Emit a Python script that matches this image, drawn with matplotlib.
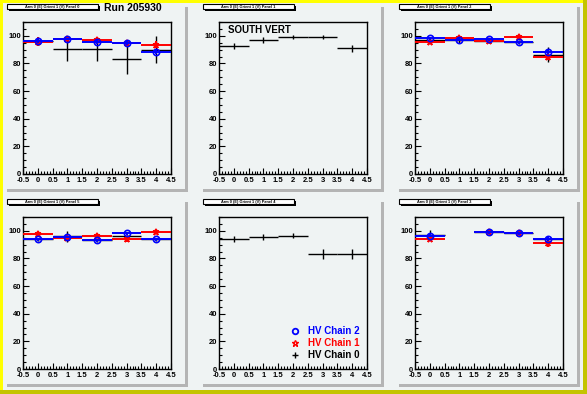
import numpy as np
import matplotlib
matplotlib.use("Agg")
import matplotlib.pyplot as plt
from matplotlib.patches import Rectangle
from matplotlib.lines import Line2D
from matplotlib.ticker import MultipleLocator, FixedLocator

plt.rcParams['font.family'] = ['Liberation Sans', 'DejaVu Sans']
plt.rcParams['font.weight'] = 'bold'

W, H = 587, 394
BG = '#eff3f3'

# bin centres and tick labels
bins = [0, 1, 2, 3, 4]
xticks = [-0.5, 0, 0.5, 1, 1.5, 2, 2.5, 3, 3.5, 4, 4.5]
xticklabels = ['-0.5', '0', '0.5', '1', '1.5', '2', '2.5', '3', '3.5', '4', '4.5']
yticks = [0, 20, 40, 60, 80, 100]

nan = np.nan

# panel 0
p0_ch0 = [96.0, 90.5, 90.5, 83.5, 90.0]
p0_ch0_err = [3.0, 8.5, 8.5, 11.0, 10.0]
p0_ch1 = [95.8, 97.5, 97.0, 94.5, 93.5]
p0_ch1_err = [3.0, 1.5, 2.0, 2.0, 2.5]
p0_ch2 = [96.2, 97.7, 95.7, 94.7, 88.5]
p0_ch2_err = [1.5, 1.0, 1.5, 1.5, 2.0]

# panel 1
p1_ch0 = [92.6, 96.9, 99.3, 99.3, 91.1]
p1_ch0_err = [2.5, 2.0, 1.5, 1.5, 2.5]

# panel 2
p2_ch0 = [97.3, 97.3, 96.6, 95.4, 86.3]
p2_ch0_err = [2.0, 2.5, 1.5, 1.5, 5.5]
p2_ch1 = [95.4, 98.3, 96.1, 99.0, 84.6]
p2_ch1_err = [1.5, 1.5, 1.5, 1.5, 2.0]
p2_ch2 = [98.3, 97.3, 97.6, 95.4, 88.2]
p2_ch2_err = [1.0, 1.0, 1.0, 1.0, 1.5]

# panel 5
p5_ch0 = [93.9, 95.9, 93.2, 96.1, 93.9]
p5_ch0_err = [1.0, 4.0, 1.0, 1.0, 1.0]
p5_ch1 = [97.6, 94.9, 96.6, 94.2, 99.0]
p5_ch1_err = [1.0, 1.0, 1.0, 2.0, 1.0]
p5_ch2 = [93.9, 95.6, 93.2, 98.3, 93.9]
p5_ch2_err = [1.0, 1.0, 1.0, 1.0, 1.0]

# panel 4
p4_ch0 = [93.9, 95.4, 96.6, 83.0, 83.0]
p4_ch0_err = [2.0, 2.0, 2.0, 3.5, 3.5]

# panel 3
p3_ch0 = [96.8, nan, 99.0, 98.3, 93.9]
p3_ch0_err = [3.5, 0.0, 1.0, 1.0, 1.0]
p3_ch1 = [93.9, nan, 99.0, 98.3, 91.0]
p3_ch1_err = [1.5, 0.0, 1.0, 1.0, 3.0]
p3_ch2 = [96.6, nan, 99.0, 98.3, 93.9]
p3_ch2_err = [1.0, 0.0, 1.0, 1.0, 1.5]

panels = [
    (0, 0, 0, [(p0_ch0, p0_ch0_err), (p0_ch1, p0_ch1_err), (p0_ch2, p0_ch2_err)]),
    (1, 0, 1, [(p1_ch0, p1_ch0_err)]),
    (2, 0, 2, [(p2_ch0, p2_ch0_err), (p2_ch1, p2_ch1_err), (p2_ch2, p2_ch2_err)]),
    (5, 1, 0, [(p5_ch0, p5_ch0_err), (p5_ch1, p5_ch1_err), (p5_ch2, p5_ch2_err)]),
    (4, 1, 1, [(p4_ch0, p4_ch0_err)]),
    (3, 1, 2, [(p3_ch0, p3_ch0_err), (p3_ch1, p3_ch1_err), (p3_ch2, p3_ch2_err)]),
]

colors = ['black', 'red', 'blue']
markers = [None, '*', 'o']
labels = ['HV Chain 0', 'HV Chain 1', 'HV Chain 2']

fig = plt.figure(figsize=(W / 100, H / 100), dpi=100, facecolor=BG)


def box(x0, y0, x1, y1, **kw):
    # rectangle in pixel coords (origin top-left)
    fig.add_artist(Rectangle((x0 / W, 1 - y1 / H), (x1 - x0) / W, (y1 - y0) / H,
                             transform=fig.transFigure, **kw))


# canvas border
box(0, 0, 3, H, facecolor='#ffff00', edgecolor='none')
box(0, 0, W, 3, facecolor='#ffff00', edgecolor='none')
box(583, 0, W, H, facecolor='#c4c400', edgecolor='none')
box(0, 390, W, H, facecolor='#c4c400', edgecolor='none')

for num, r, c, series in panels:
    dx = 196 * c
    dy = 195 * r
    # pad shadow
    box(185 + dx, 7 + dy, 188 + dx, 192 + dy, facecolor='#b4b4b4', edgecolor='none')
    box(7 + dx, 189 + dy, 188 + dx, 192 + dy, facecolor='#b4b4b4', edgecolor='none')
    # title box
    box(9 + dx, 6 + dy, 100 + dx, 11 + dy, facecolor='black', edgecolor='none')
    box(7 + dx, 4 + dy, 98 + dx, 9 + dy, facecolor='white', edgecolor='black', linewidth=0.8)
    fig.text((52 + dx) / W, 1 - (6.7 + dy) / H,
             'Arm 0 (E) Orient 1 (V) Panel %d' % num,
             fontsize=2.8, ha='center', va='center')

    x0 = 23 + dx
    x1 = 171 + dx
    y0 = 22 + dy
    y1 = 174 + dy
    ax = fig.add_axes([x0 / W, 1 - y1 / H, (x1 - x0) / W, (y1 - y0) / H])
    ax.set_facecolor(BG)
    for i, (vals, errs) in enumerate(series):
        lw = 1.0 if i == 0 else 1.4
        ax.errorbar(bins, vals, xerr=0.5, yerr=errs, fmt='none',
                    ecolor=colors[i], elinewidth=lw, capsize=0, zorder=2 + i)
        if markers[i] is not None:
            ax.plot(bins, vals, linestyle='none', marker=markers[i], ms=4.5,
                    mfc='none', mec=colors[i], mew=1.2, zorder=2.5 + i)
    ax.set_xlim(-0.5, 4.5)
    ax.set_ylim(0, 110)
    ax.xaxis.set_major_locator(FixedLocator(xticks))
    ax.set_xticklabels(xticklabels)
    ax.xaxis.set_minor_locator(MultipleLocator(0.1))
    ax.yaxis.set_major_locator(FixedLocator(yticks))
    ax.yaxis.set_minor_locator(MultipleLocator(5))
    ax.tick_params(which='both', direction='in', labelsize=5.5, pad=1.5,
                   width=0.8, colors='black')
    ax.tick_params(axis='x', pad=2.0)
    ax.tick_params(which='major', length=4.5)
    ax.tick_params(which='minor', length=2.2)
    for lab in ax.get_xticklabels() + ax.get_yticklabels():
        lab.set_fontweight('bold')
    for s in ax.spines.values():
        s.set_linewidth(1.0)

    if num == 0:
        fig.text(133 / W, 1 - 8 / H, 'Run 205930', fontsize=7.5, fontweight='bold',
                 ha='center', va='center')
    if num == 1:
        ax.text(-0.2, 104.5, 'SOUTH VERT', fontsize=7, fontweight='bold',
                ha='left', va='center')
    if num == 4:
        handles = [
            Line2D([], [], linestyle='none', marker='o', ms=4, mfc='none', mec='blue', mew=1.3),
            Line2D([], [], linestyle='none', marker='*', ms=4.5, mfc='none', mec='red', mew=1.0),
            Line2D([], [], linestyle='none', marker='+', ms=5, mec='black', mew=1.0),
        ]
        leg = ax.legend(handles, [labels[2], labels[1], labels[0]], loc='lower right',
                        bbox_to_anchor=(1.01, 0.0), frameon=False,
                        handlelength=1.0, handletextpad=0.8, labelspacing=0.2,
                        prop={'weight': 'bold', 'size': 7})
        for t, col in zip(leg.get_texts(), ['blue', 'red', 'black']):
            t.set_color(col)

fig.savefig('out.png', dpi=100, facecolor=BG)
